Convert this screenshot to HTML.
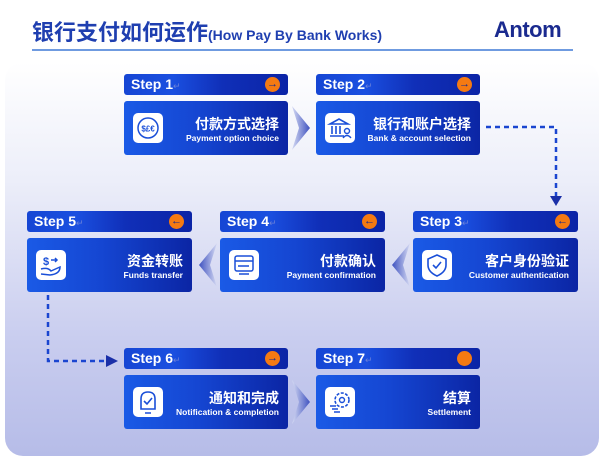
<!DOCTYPE html>
<html><head><meta charset="utf-8"><style>
*{margin:0;padding:0;box-sizing:border-box}
body{width:600px;height:460px;background:#fff;position:relative;overflow:hidden;font-family:"Liberation Sans","Noto Sans CJK SC",sans-serif}
.title{position:absolute;left:32px;top:15px;font-size:22px;font-weight:bold;color:#1f3fb0;white-space:nowrap}
.title small{font-size:14px}
.rule{position:absolute;left:32px;top:49px;width:541px;height:2px;background:#6f9be0}
.logo{position:absolute;left:494px;top:17px;font-size:22px;font-weight:bold;color:#1a2a8f;letter-spacing:-0.5px}
.panel{position:absolute;left:5px;top:62px;width:594px;height:394px;border-radius:18px;background:linear-gradient(#ffffff 0%,#eceef9 30%,#c9cdef 70%,#b6bce8 100%)}
.hd{position:absolute;height:21px;border-radius:3px;background:linear-gradient(90deg,#1646d4 0%,#1a4fe0 30%,#102fb8 60%,#0b24a6 100%);color:#fff;font-weight:bold;font-size:14px;padding:2px 0 0 7px}
.hd .ret{color:#6a80d8;font-size:9px;font-weight:normal}
.dot{position:absolute;right:8px;top:3px;width:15px;height:15px;border-radius:50%;background:#f57a12;color:#12288f;font-size:11px;line-height:15px;text-align:center;font-weight:bold}
.bd{position:absolute;height:54px;border-radius:3px;background:linear-gradient(90deg,#1a5ae6 0%,#1546d2 45%,#0b25a4 100%);color:#fff}
.ic{position:absolute;left:9px;top:12px;width:30px;height:30px;background:#fff;border-radius:5px}
.zh{position:absolute;right:9px;top:13px;font-size:14px;font-weight:bold;white-space:nowrap}
.en{position:absolute;right:9px;top:32px;font-size:8.5px;font-weight:bold;white-space:nowrap}
</style></head><body>
<div class="title">银行支付如何运作<small>(How Pay By Bank Works)</small></div>
<div class="rule"></div>
<div class="logo">Antom</div>
<div class="panel"></div>

<svg style="position:absolute;left:0;top:0" width="600" height="460">
<defs><linearGradient id="cv" x1="0" x2="1"><stop offset="0" stop-color="#d5daf3"/><stop offset="1" stop-color="#3f52c0"/></linearGradient>
<linearGradient id="cvl" x1="1" x2="0"><stop offset="0" stop-color="#d5daf3"/><stop offset="1" stop-color="#3f52c0"/></linearGradient></defs>
<polygon points="292,106 310,128 292,150 299,128" fill="url(#cv)"/>
<polygon points="292,380 310,402 292,424 299,402" fill="url(#cv)"/>
<polygon points="410,243 392,265 410,287 403,265" fill="url(#cvl)"/>
<polygon points="217,243 199,265 217,287 210,265" fill="url(#cvl)"/>
<path d="M486,127 H556 V196" stroke="#1a45d0" stroke-width="2.5" stroke-dasharray="5,4" fill="none"/>
<polygon points="550,196 562,196 556,206" fill="#1a2fa8"/>
<path d="M48,295 V361 H106" stroke="#1a45d0" stroke-width="2.5" stroke-dasharray="5,4" fill="none"/>
<polygon points="106,355 106,367 118,361" fill="#1a2fa8"/>
</svg>

<div class="hd" style="left:124px;top:74px;width:164px">Step 1<span class="ret">↵</span><div class="dot">→</div></div>
<div class="bd" style="left:124px;top:101px;width:164px"><div class="ic"><svg width="30" height="30"><circle cx="15" cy="15" r="10" fill="none" stroke="#1a4fd8" stroke-width="1.5"/><text x="15" y="18.5" font-size="8" fill="#1a4fd8" text-anchor="middle" font-weight="bold">$£€</text></svg></div><div class="zh">付款方式选择</div><div class="en">Payment option choice</div></div>
<div class="hd" style="left:316px;top:74px;width:164px">Step 2<span class="ret">↵</span><div class="dot">→</div></div>
<div class="bd" style="left:316px;top:101px;width:164px"><div class="ic"><svg width="30" height="30"><path d="M5,11 L14,6 L23,11 Z M7,13 V21 M11,13 V21 M15,13 V21 M5,23 H19" stroke="#1a4fd8" stroke-width="1.6" fill="none"/><circle cx="22" cy="18" r="2.5" fill="none" stroke="#1a4fd8" stroke-width="1.4"/><path d="M18,25 Q22,20 26,25" stroke="#1a4fd8" stroke-width="1.4" fill="none"/></svg></div><div class="zh">银行和账户选择</div><div class="en">Bank &amp; account selection</div></div>
<div class="hd" style="left:27px;top:211px;width:165px">Step 5<span class="ret">↵</span><div class="dot">←</div></div>
<div class="bd" style="left:27px;top:238px;width:165px"><div class="ic"><svg width="30" height="30"><text x="7" y="15" font-size="11" fill="#1a4fd8" font-weight="bold">$</text><path d="M15,10 H21 M19,8 L21,10 L19,12 M5,19 Q12,17 15,21 L24,17 Q24,24 14,25 L5,24" stroke="#1a4fd8" stroke-width="1.5" fill="none"/></svg></div><div class="zh">资金转账</div><div class="en">Funds transfer</div></div>
<div class="hd" style="left:220px;top:211px;width:165px">Step 4<span class="ret">↵</span><div class="dot">←</div></div>
<div class="bd" style="left:220px;top:238px;width:165px"><div class="ic"><svg width="30" height="30"><rect x="6" y="6" width="18" height="15" rx="2" fill="none" stroke="#1a4fd8" stroke-width="1.5"/><path d="M6,11 H24 M9,16 H20 M10,24 H20" stroke="#1a4fd8" stroke-width="1.5"/></svg></div><div class="zh">付款确认</div><div class="en">Payment confirmation</div></div>
<div class="hd" style="left:413px;top:211px;width:165px">Step 3<span class="ret">↵</span><div class="dot">←</div></div>
<div class="bd" style="left:413px;top:238px;width:165px"><div class="ic"><svg width="30" height="30"><path d="M15,5 L24,9 V15 Q24,22 15,26 Q6,22 6,15 V9 Z" fill="none" stroke="#1a4fd8" stroke-width="1.6"/><path d="M11,15 L14,18 L19,12" stroke="#1a4fd8" stroke-width="1.6" fill="none"/></svg></div><div class="zh">客户身份验证</div><div class="en">Customer authentication</div></div>
<div class="hd" style="left:124px;top:348px;width:164px">Step 6<span class="ret">↵</span><div class="dot">→</div></div>
<div class="bd" style="left:124px;top:375px;width:164px"><div class="ic"><svg width="30" height="30"><path d="M8,22 V12 Q8,5 15,5 Q22,5 22,12 V22 Z" fill="none" stroke="#1a4fd8" stroke-width="1.6"/><path d="M11,14 L14,17 L19,11 M12,26 H18" stroke="#1a4fd8" stroke-width="1.6" fill="none"/></svg></div><div class="zh">通知和完成</div><div class="en">Notification &amp; completion</div></div>
<div class="hd" style="left:316px;top:348px;width:164px">Step 7<span class="ret">↵</span><div class="dot"></div></div>
<div class="bd" style="left:316px;top:375px;width:164px"><div class="ic"><svg width="30" height="30"><circle cx="17" cy="13" r="7" fill="none" stroke="#1a4fd8" stroke-width="1.6" stroke-dasharray="3,1.5"/><circle cx="17" cy="13" r="2.5" fill="none" stroke="#1a4fd8" stroke-width="1.4"/><path d="M5,19 H11 M7,22 H13 M9,25 H15" stroke="#1a4fd8" stroke-width="1.4"/></svg></div><div class="zh">结算</div><div class="en">Settlement</div></div>
</body></html>
